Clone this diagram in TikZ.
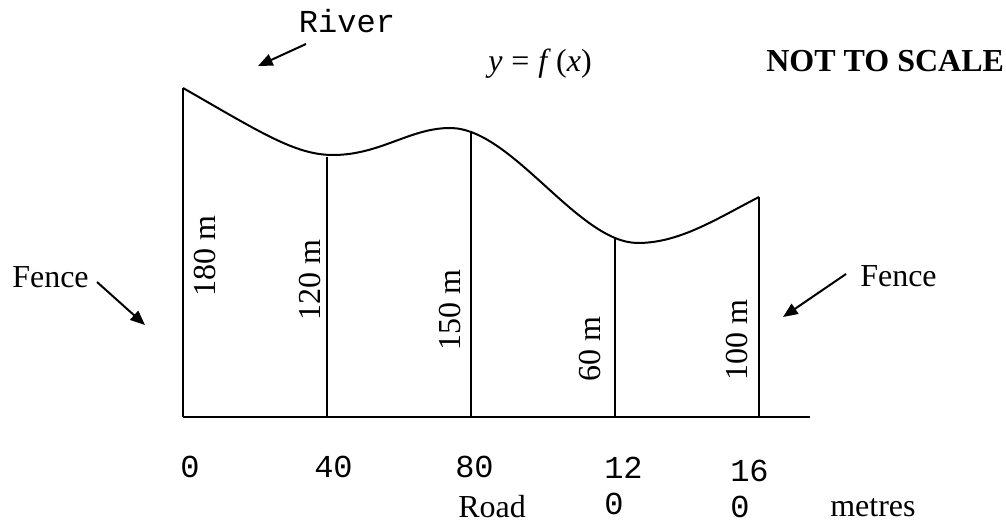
\documentclass[tikz,border=0pt]{standalone}
\usepackage{fontspec}
\setmainfont{Liberation Serif}
\setmonofont{Liberation Mono}
\usetikzlibrary{arrows.meta, positioning}
\definecolor{inkblack}{HTML}{000000}

\begin{document}
\begin{tikzpicture}[x=0.75pt, y=-0.75pt,
    lbl/.style={font=\fontsize{24}{28}\selectfont, inkblack, inner sep=0pt},
    ticklbl/.style={font=\ttfamily\fontsize{24}{27}\selectfont, inkblack, inner sep=0pt, align=left},
    widthlbl/.style={lbl, rotate=90},
    pointer/.style={-{Triangle[length=11pt, width=9pt]}, line width=1.5pt, inkblack},
    ordinate/.style={line width=1pt, inkblack}]
  \useasboundingbox (0,0) rectangle (1006,523);

  % Road and river boundary
  \draw[line width=1.6pt, inkblack] (183,417) -- (810,417);
  \draw[line width=1.5pt, inkblack] (183,88) .. controls (260,132) and (295,155) .. (333,155)
        .. controls (380,155) and (410,128) .. (450,128)
        .. controls (512,128) and (578,243) .. (638,243)
        .. controls (680,243) and (718,218) .. (759,197);

  % Fences and ordinates
  \draw[line width=1.4pt, inkblack] (183,88) -- (183,417);
  \draw[line width=1.4pt, inkblack] (759,197) -- (759,417);
  \draw[ordinate] (327,157) -- (327,417);
  \draw[ordinate] (471,131) -- (471,417);
  \draw[ordinate] (615,238) -- (615,417);

  % Widths
  \node[widthlbl] (w0) at (205,256) {180 m};
  \node[widthlbl] (w1) at (310,280) {120 m};
  \node[widthlbl] (w2) at (450,310) {150 m};
  \node[widthlbl] (w3) at (590,349) {60 m};
  \node[widthlbl] (w4) at (737,340) {100 m};

  % Distances along the road
  \node[ticklbl, anchor=base west] (x0) at (180,478) {0};
  \node[ticklbl, anchor=base west] (x1) at (314,478) {40};
  \node[ticklbl, anchor=base west] (x2) at (455,477) {80};
  \node[ticklbl, anchor=north west] (x3) at (604,457) {12\\0};
  \node[ticklbl, anchor=north west] (x4) at (730,460) {16\\0};
  \node[lbl, anchor=base west] (road) at (458,517) {Road};
  \node[lbl, anchor=base west] (metres) at (830,516) {metres};

  % Titles
  \node[lbl, anchor=base] (fx) at (540,72) {\textit{y}\;=\;\textit{f}\,(\textit{x})};
  \node[lbl, anchor=base west, font=\bfseries\fontsize{24}{28}\selectfont] (scale) at (766,72) {NOT TO SCALE};

  % River pointer
  \node[ticklbl, anchor=base] (river) at (347,33) {River};
  \coordinate (river tail) at (306,44);
  \coordinate (river tip) at (258,66);
  \draw[pointer] (river tail) -- (river tip);

  % Fence pointers
  \node[lbl, anchor=base west] (fence l) at (12,288) {Fence};
  \coordinate (fence l tail) at (97,282);
  \coordinate (fence l tip) at (145,325);
  \draw[pointer] (fence l tail) -- (fence l tip);
  \node[lbl, anchor=base west] (fence r) at (860,287) {Fence};
  \coordinate (fence r tail) at (846,274);
  \coordinate (fence r tip) at (783,317);
  \draw[pointer] (fence r tail) -- (fence r tip);
\end{tikzpicture}
\end{document}
